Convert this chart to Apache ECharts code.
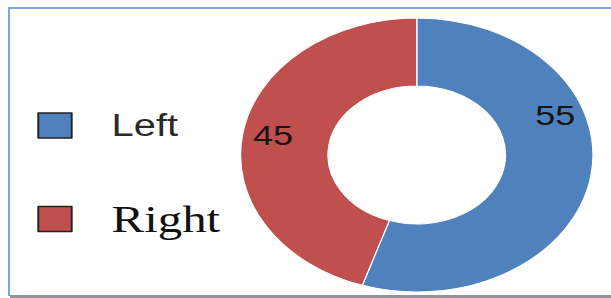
<!DOCTYPE html>
<html>
<head>
<meta charset="utf-8">
<script src="https://cdn.jsdelivr.net/npm/echarts@6/dist/echarts.min.js"></script>
<style>
  html, body { margin: 0; padding: 0; background: #fff; }
  #wrap { position: relative; width: 611px; height: 298px; overflow: hidden; background: #fff; }
  #chart { position: absolute; left: 0; top: 0; width: 475px; height: 298px; transform: scaleX(1.2863); transform-origin: 0 0; }
  .ln { position: absolute; }
  #topLine { left: 8px; top: 7px; width: 603px; height: 2px; background: #79a6e3; }
  #leftLine { left: 8px; top: 7px; width: 2px; height: 289px; background: #79a6e3; }
  #bottomLine { left: 10px; top: 295px; width: 601px; height: 3px; background: #8e939c; }
</style>
</head>
<body>
<div id="wrap">
  <div id="chart"></div>
  <div class="ln" id="topLine"></div>
  <div class="ln" id="leftLine"></div>
  <div class="ln" id="bottomLine"></div>
</div>
<script>
const categories = ['Left', 'Right'];
const values = [55, 45];
const colors = ['#4f81bd', '#c0504d'];

const chart = echarts.init(document.getElementById('chart'), null, { renderer: 'svg' });

const legendBase = {
  orient: 'vertical',
  left: 29,
  padding: 0,
  icon: 'rect',
  itemWidth: 26,
  itemHeight: 25,
  selectedMode: false,
  itemStyle: { borderColor: '#222', borderWidth: 1.5 }
};

const option = {
  animation: false,
  color: colors,
  legend: [
    Object.assign({}, legendBase, {
      top: 108,
      data: [{ name: categories[0], textStyle: { fontFamily: 'Liberation Sans', fontSize: 31, lineHeight: 25, color: '#2a2a2a', padding: [10, 0, 0, 26] } }]
    }),
    Object.assign({}, legendBase, {
      top: 200,
      data: [{ name: categories[1], textStyle: { fontFamily: 'Liberation Serif', fontSize: 38, lineHeight: 25, color: '#111', padding: [6, 0, 0, 26] } }]
    })
  ],
  series: [{
    type: 'pie',
    center: [324, 155],
    radius: [69, 137],
    startAngle: 90,
    clockwise: true,
    silent: true,
    itemStyle: { borderColor: '#ffffff', borderWidth: 1 },
    label: {
      show: true,
      position: 'inside',
      formatter: '{c}',
      fontFamily: 'Liberation Sans',
      fontSize: 28,
      color: '#151515'
    },
    labelLine: { show: false },
    labelLayout: function (p) {
      return p.dataIndex === 0 ? { dx: 3, dy: -56 } : { dx: -7, dy: -3 };
    },
    data: categories.map((c, i) => ({ name: c, value: values[i] }))
  }]
};
chart.setOption(option);
</script>
</body>
</html>
